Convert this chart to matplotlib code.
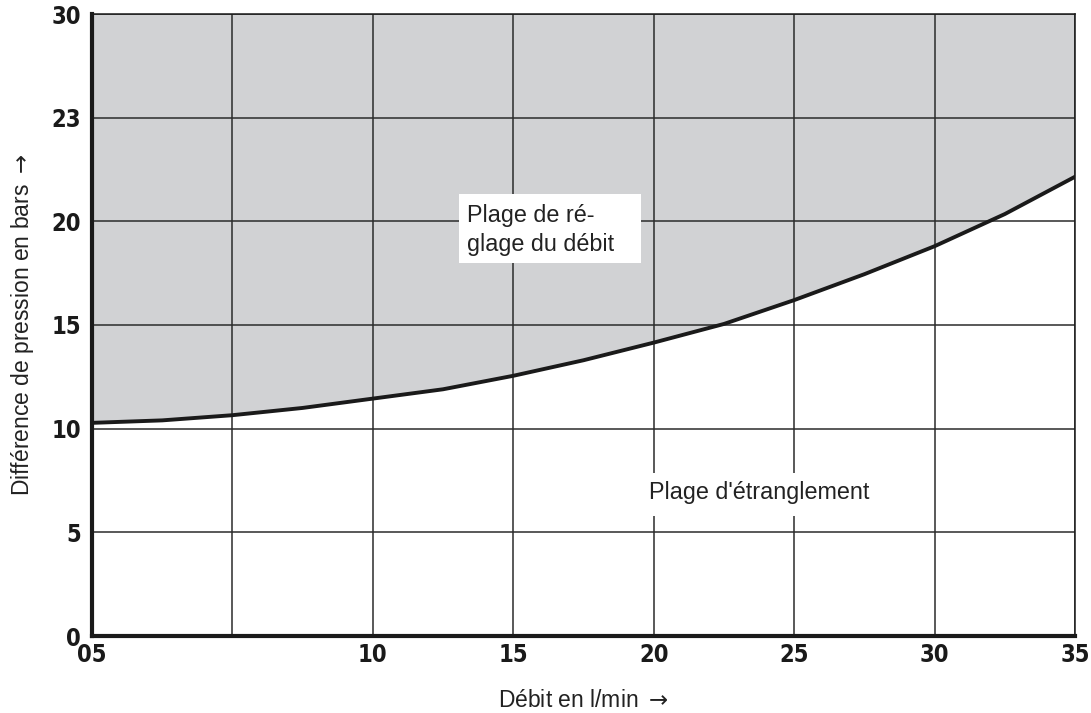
import numpy as np
import matplotlib
matplotlib.use('Agg')
import matplotlib.pyplot as plt
from matplotlib.patches import Rectangle

# tick values (the chart uses an evenly spaced grid with uneven labels)
x_ticks = [5, 7.5, 10, 15, 20, 25, 30, 35]
x_labels = ['05', '', '10', '15', '20', '25', '30', '35']
y_ticks = [0, 5, 10, 15, 20, 23, 30]
y_labels = ['0', '5', '10', '15', '20', '23', '30']

# boundary curve (flow in l/min, pressure in bar)
flow = [5, 6.25, 7.5, 8.75, 10, 12.5, 15, 17.5, 20, 22.5, 25, 27.5, 30, 32.5, 35]
pressure = [10.28, 10.4, 10.65, 11.0, 11.45, 11.9, 12.55, 13.3, 14.15, 15.05,
            16.2, 17.45, 18.8, 20.21, 21.29]

x_pos = np.arange(len(x_ticks), dtype=float)
y_pos = np.arange(len(y_ticks), dtype=float)


def x_fwd(v):
    return np.interp(v, x_ticks, x_pos)


def x_inv(p):
    return np.interp(p, x_pos, x_ticks)


def y_fwd(v):
    return np.interp(v, y_ticks, y_pos)


def y_inv(p):
    return np.interp(p, y_pos, y_ticks)


text_font = ['Liberation Sans', 'DejaVu Sans']
ink = '#222222'

fig = plt.figure(figsize=(10.91, 7.13), dpi=100)
ax = fig.add_axes([92 / 1091, 77 / 713, (1075 - 92) / 1091, (636 - 14) / 713])

ax.set_xscale('function', functions=(x_fwd, x_inv))
ax.set_yscale('function', functions=(y_fwd, y_inv))
ax.set_xlim(5, 35)
ax.set_ylim(0, 30)

# shaded region above the curve
ax.fill_between(flow, pressure, 30, color='#d1d2d4', linewidth=0, zorder=1)
ax.plot(flow, pressure, color='#1a1a1a', linewidth=2.8, zorder=2,
        solid_joinstyle='round')

ax.set_xticks(x_ticks)
ax.set_xticklabels(x_labels)
ax.set_yticks(y_ticks)
ax.set_yticklabels(y_labels)
ax.minorticks_off()
ax.tick_params(length=0, labelsize=17, colors='#1a1a1a')
ax.tick_params(axis='x', pad=5)
ax.tick_params(axis='y', pad=8)
for lab in ax.get_xticklabels() + ax.get_yticklabels():
    lab.set_family('DejaVu Sans')
    lab.set_fontstretch('condensed')
    lab.set_fontweight('bold')

ax.set_axisbelow('line')
ax.grid(True, color='#2b2b2b', linewidth=1.1)

for side in ['left', 'bottom']:
    ax.spines[side].set_linewidth(3)
for side in ['top', 'right']:
    ax.spines[side].set_linewidth(1.1)
for sp in ax.spines.values():
    sp.set_color('#1a1a1a')
    sp.set_zorder(4)

xl = ax.set_xlabel(r'Débit en l/min $\rightarrow$', fontsize=16.5,
                   family=text_font, color=ink)
yl = ax.set_ylabel(r'Différence de pression en bars $\rightarrow$', fontsize=16.5,
                   family=text_font, color=ink)
xl.set_va('center')
yl.set_va('center')
ax.xaxis.set_label_coords(0.5, -0.103)
ax.yaxis.set_label_coords(-0.071, 0.5)

# white label boxes
ax.add_patch(Rectangle((0.3733, 0.5997), 0.1852, 0.1109, transform=ax.transAxes,
                       facecolor='white', edgecolor='none', zorder=3))
ax.text(0.3815, 0.6527, 'Plage de ré-\nglage du débit', transform=ax.transAxes,
        fontsize=16.8, family=text_font, color=ink, ha='left', va='center',
        linespacing=1.3, zorder=4)

ax.add_patch(Rectangle((0.5615, 0.1929), 0.2361, 0.0692, transform=ax.transAxes,
                       facecolor='white', edgecolor='none', zorder=3))
ax.text(0.6785, 0.2315, "Plage d'étranglement", transform=ax.transAxes,
        fontsize=16.8, family=text_font, color=ink, ha='center', va='center',
        zorder=4)

fig.savefig('out.png', dpi=100)
